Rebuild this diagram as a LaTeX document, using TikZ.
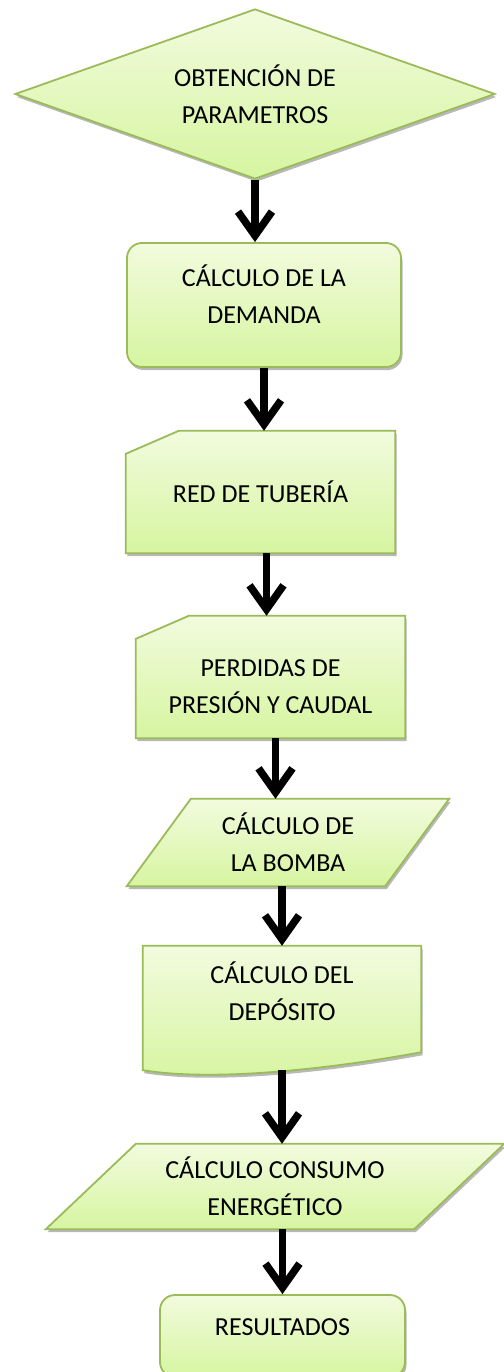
\documentclass[tikz,border=0pt]{standalone}
\usepackage{fontspec}
\setmainfont{Carlito}
\usetikzlibrary{shapes.geometric, arrows.meta, positioning, backgrounds, shadows}
\definecolor{leaf-top}{RGB}{242,251,222}
\definecolor{leaf-bot}{RGB}{214,245,160}
\definecolor{leaf-edge}{RGB}{155,187,89}

\begin{document}
\begin{tikzpicture}[
    x=1pt, y=-1pt,
    %% common look of every block
    blk/.style   = {top color=leaf-top, bottom color=leaf-bot,
                    draw=leaf-edge, line width=1.8pt,
                    drop shadow={shadow xshift=1.5pt, shadow yshift=-3pt,
                                 opacity=0.28, fill=black}},
    %% block text
    txt/.style   = {font=\fontsize{26}{37}\selectfont, align=center, text=black},
    %% decision (start)
    dec/.style   = {diamond, blk, txt, inner sep=0pt, aspect=2.82,
                    minimum width=480pt, minimum height=170pt},
    %% process box
    rbox/.style  = {rectangle, rounded corners=15pt, blk, txt},
    %% invisible frame, outline drawn behind it
    frame/.style = {rectangle, txt, inner sep=0pt},
    arr/.style   = {-{Straight Barb[length=24pt,width=34pt]}, line width=7.5pt, black},
]
\useasboundingbox (0,0) rectangle (503,1372);

%% ---- blocks, top to bottom ----
\node[dec]  (param) at (255, 94)  {OBTENCIÓN DE\\PARAMETROS};
\node[rbox, minimum width=274pt, minimum height=124pt, text depth=22pt]
            (demand) at (264, 305) {CÁLCULO DE LA\\DEMANDA};
\node[frame, minimum width=269pt, minimum height=122pt]
            (pipes)  at (260.5, 492) {RED DE TUBERÍA};
\node[frame, minimum width=269pt, minimum height=122pt, text height=74pt]
            (losses) at (270.5, 677) {PERDIDAS DE\\PRESIÓN Y CAUDAL};
\node[frame, minimum width=322pt, minimum height=87pt]
            (pump)   at (288, 842.5) {CÁLCULO DE\\LA BOMBA};
\node[frame, minimum width=278pt, minimum height=124pt, text depth=34pt]
            (tank)   at (282, 1008) {CÁLCULO DEL\\DEPÓSITO};
\node[frame, minimum width=458pt, minimum height=85pt]
            (energy) at (275, 1186.5) {CÁLCULO CONSUMO\\ENERGÉTICO};
\node[rbox, minimum width=245pt, minimum height=82pt, text depth=18pt]
            (result) at (282.5, 1336) {RESULTADOS};

%% ---- outlines of the non-standard blocks ----
\begin{scope}[on background layer]
  %% card shapes
  \path[blk] ([yshift=-23pt]pipes.north west) -- ([xshift=53pt]pipes.north west)
             -- (pipes.north east) -- (pipes.south east) -- (pipes.south west) -- cycle;
  \path[blk] ([yshift=-23pt]losses.north west) -- ([xshift=53pt]losses.north west)
             -- (losses.north east) -- (losses.south east) -- (losses.south west) -- cycle;
  %% data (parallelograms)
  \path[blk] ([xshift=64pt]pump.north west) -- (pump.north east)
             -- ([xshift=-64pt]pump.south east) -- (pump.south west) -- cycle;
  \path[blk] ([xshift=90pt]energy.north west) -- (energy.north east)
             -- ([xshift=-90pt]energy.south east) -- (energy.south west) -- cycle;
  %% document
  \path[blk] (tank.north west) -- (tank.north east) -- ([yshift=18pt]tank.south east)
             .. controls ([xshift=-70pt,yshift=5pt]tank.south east)
                and ([xshift=80pt,yshift=-13pt]tank.south west) .. (tank.south west) -- cycle;
\end{scope}

%% ---- arrows ----
\draw[arr] (param.south)               -- (param.south |- demand.north);
\draw[arr] (demand.south)              -- (demand.south |- pipes.north);
\draw[arr] ([xshift=6pt]pipes.south)   -- ([xshift=6pt]pipes.south |- losses.north);
\draw[arr] ([xshift=5pt]losses.south)  -- ([xshift=5pt]losses.south |- pump.north);
\draw[arr] (tank.north |- pump.south)  -- (tank.north);
\draw[arr] (tank.south)                -- (tank.south |- energy.north);
\draw[arr] (energy.south -| result.north) -- (result.north);

\end{tikzpicture}
\end{document}
